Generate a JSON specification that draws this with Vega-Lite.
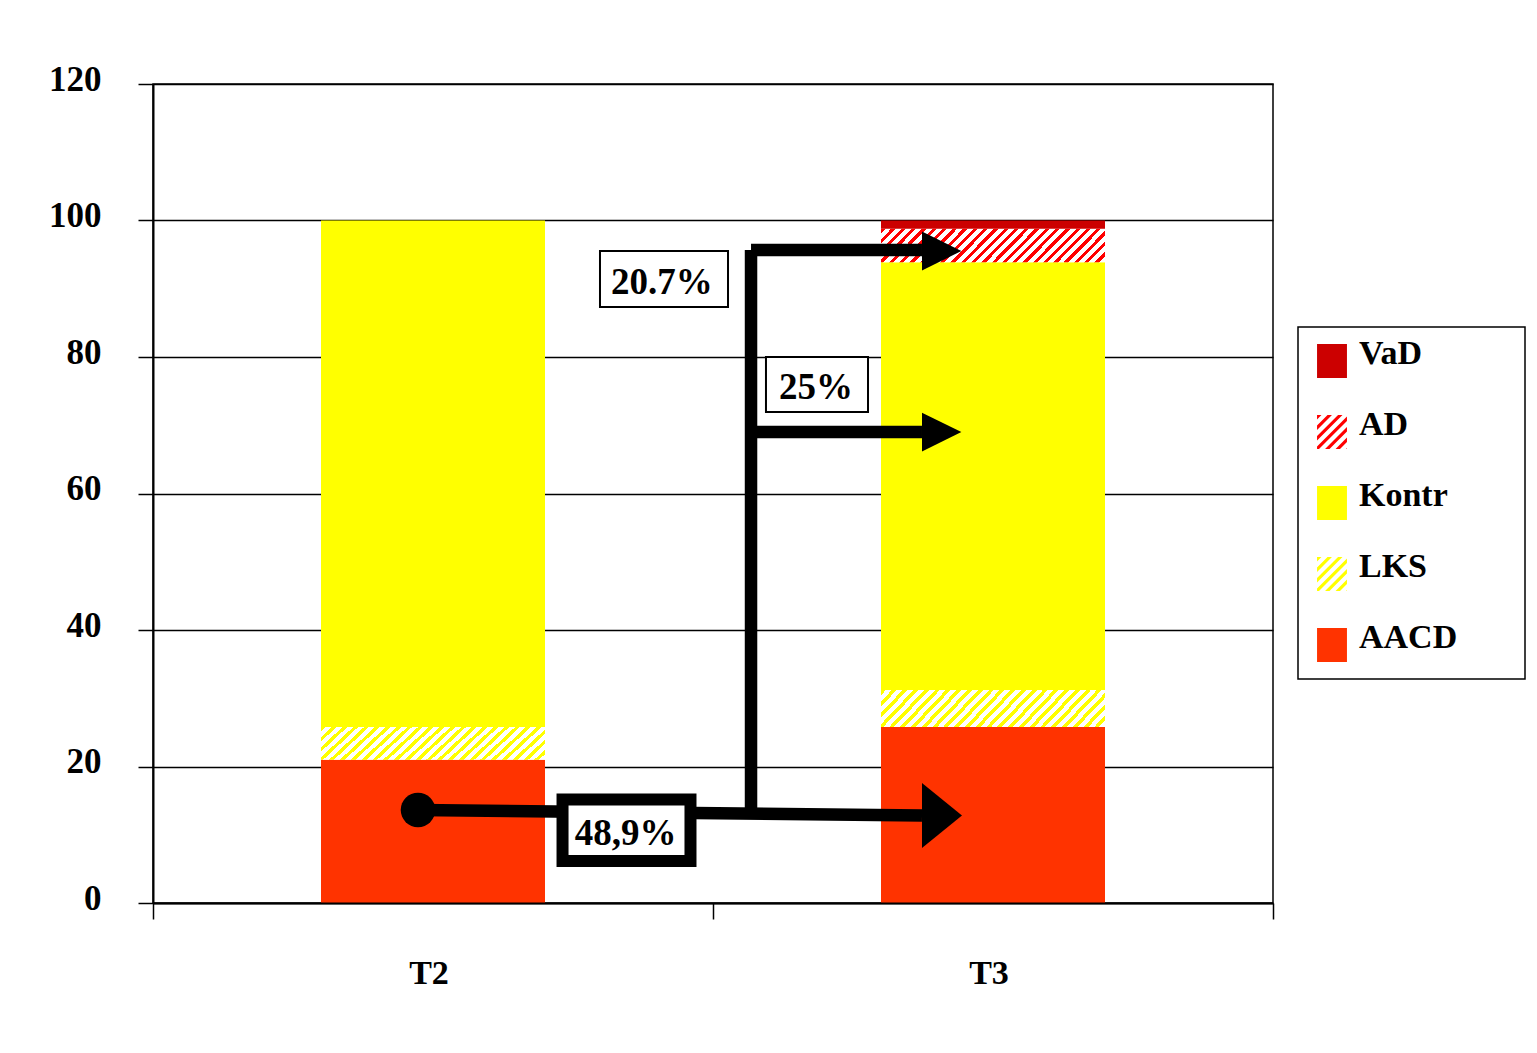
{
  "$schema": "https://vega.github.io/schema/vega-lite/v6.json",
  "width": 1120,
  "height": 819,
  "autosize": {"type": "none"},
  "padding": {"left": 153, "top": 84, "right": 264, "bottom": 150},
  "background": "white",
  "config": {
    "view": {"stroke": "black", "strokeWidth": 1.5},
    "font": "Liberation Serif",
    "axis": {
      "labelFont": "Liberation Serif",
      "labelFontWeight": "bold",
      "labelFontSize": 35,
      "labelColor": "black"
    }
  },
  "datasets": {
    "shares": [
      {"time": "T2", "series": "AACD", "share": 21.0},
      {"time": "T2", "series": "LKS", "share": 4.8},
      {"time": "T2", "series": "Kontr", "share": 74.2},
      {"time": "T3", "series": "AACD", "share": 25.8},
      {"time": "T3", "series": "LKS", "share": 5.4},
      {"time": "T3", "series": "Kontr", "share": 62.7},
      {"time": "T3", "series": "AD", "share": 4.9},
      {"time": "T3", "series": "VaD", "share": 1.2}
    ],
    "seriesOrder": [
      {"series": "AACD", "rank": 1},
      {"series": "LKS", "rank": 2},
      {"series": "Kontr", "rank": 3},
      {"series": "AD", "rank": 4},
      {"series": "VaD", "rank": 5}
    ],
    "paths": [
      {"flow": "48,9%", "x": 0.4732, "y": 13.63, "x2": 1.3732, "y2": 12.82},
      {"flow": "trunk", "x": 1.0679, "y": 13.2, "x2": 1.0679, "y2": 95.68},
      {"flow": "20.7%", "x": 1.0679, "y": 95.68, "x2": 1.3732, "y2": 95.68},
      {"flow": "25%", "x": 1.0679, "y": 69.0, "x2": 1.3732, "y2": 69.0}
    ],
    "heads": [
      {"flow": "48,9%", "x": 1.4089, "y": 12.82},
      {"flow": "20.7%", "x": 1.4089, "y": 95.53},
      {"flow": "25%", "x": 1.4089, "y": 69.0}
    ],
    "origin": [
      {"x": 0.4732, "y": 13.63}
    ],
    "boxes": [
      {"label": "20.7%", "x": 0.7982, "x2": 1.0268, "y": 95.53, "y2": 87.33, "tx": 0.9089, "ty": 89.23},
      {"label": "25%", "x": 1.0946, "x2": 1.2768, "y": 80.0, "y2": 71.94, "tx": 1.1839, "ty": 73.85},
      {"label": "48,9%", "x": 0.7313, "x2": 0.9598, "y": 15.16, "y2": 6.15, "tx": 0.8438, "ty": 8.5}
    ]
  },
  "resolve": {"scale": {"x": "independent"}, "axis": {"x": "independent"}},
  "layer": [
    {
      "data": {"name": "shares"},
      "transform": [
        {"lookup": "series", "from": {"data": {"name": "seriesOrder"}, "key": "series", "fields": ["rank"]}}
      ],
      "mark": {"type": "bar"},
      "encoding": {
        "x": {
          "field": "time",
          "type": "nominal",
          "scale": {"paddingInner": 0.6, "paddingOuter": 0.3},
          "axis": {
            "title": null,
            "orient": "bottom",
            "domain": false,
            "ticks": false,
            "grid": false,
            "labelAngle": 0,
            "labelFontSize": 34,
            "labelPadding": 80,
            "labelBaseline": "alphabetic",
            "labelOffset": -4
          }
        },
        "y": {
          "field": "share",
          "type": "quantitative",
          "stack": "zero",
          "scale": {"domain": [0, 120], "nice": false},
          "axis": {
            "title": null,
            "values": [0, 20, 40, 60, 80, 100, 120],
            "grid": true,
            "gridColor": "black",
            "gridWidth": 1.3,
            "domainColor": "black",
            "domainWidth": 2,
            "tickColor": "black",
            "tickWidth": 1.5,
            "tickSize": 15,
            "labelPadding": 37,
            "labelOffset": -5
          }
        },
        "order": {"field": "rank", "type": "quantitative", "sort": "ascending"},
        "color": {
          "condition": [
            {
              "test": "datum.series === 'AD'",
              "value": {
                "gradient": "linear", "x1": 0, "y1": 0, "x2": 1.1229, "y2": 0.1654,
                "stops": [
                  {"offset": 0, "color": "#FF0000"}, {"offset": 0.0168, "color": "#FF0000"}, {"offset": 0.0168, "color": "#FFFFFF"}, {"offset": 0.04, "color": "#FFFFFF"},
                  {"offset": 0.04, "color": "#FF0000"}, {"offset": 0.0568, "color": "#FF0000"}, {"offset": 0.0568, "color": "#FFFFFF"}, {"offset": 0.08, "color": "#FFFFFF"},
                  {"offset": 0.08, "color": "#FF0000"}, {"offset": 0.0968, "color": "#FF0000"}, {"offset": 0.0968, "color": "#FFFFFF"}, {"offset": 0.12, "color": "#FFFFFF"},
                  {"offset": 0.12, "color": "#FF0000"}, {"offset": 0.1368, "color": "#FF0000"}, {"offset": 0.1368, "color": "#FFFFFF"}, {"offset": 0.16, "color": "#FFFFFF"},
                  {"offset": 0.16, "color": "#FF0000"}, {"offset": 0.1768, "color": "#FF0000"}, {"offset": 0.1768, "color": "#FFFFFF"}, {"offset": 0.2, "color": "#FFFFFF"},
                  {"offset": 0.2, "color": "#FF0000"}, {"offset": 0.2168, "color": "#FF0000"}, {"offset": 0.2168, "color": "#FFFFFF"}, {"offset": 0.24, "color": "#FFFFFF"},
                  {"offset": 0.24, "color": "#FF0000"}, {"offset": 0.2568, "color": "#FF0000"}, {"offset": 0.2568, "color": "#FFFFFF"}, {"offset": 0.28, "color": "#FFFFFF"},
                  {"offset": 0.28, "color": "#FF0000"}, {"offset": 0.2968, "color": "#FF0000"}, {"offset": 0.2968, "color": "#FFFFFF"}, {"offset": 0.32, "color": "#FFFFFF"},
                  {"offset": 0.32, "color": "#FF0000"}, {"offset": 0.3368, "color": "#FF0000"}, {"offset": 0.3368, "color": "#FFFFFF"}, {"offset": 0.36, "color": "#FFFFFF"},
                  {"offset": 0.36, "color": "#FF0000"}, {"offset": 0.3768, "color": "#FF0000"}, {"offset": 0.3768, "color": "#FFFFFF"}, {"offset": 0.4, "color": "#FFFFFF"},
                  {"offset": 0.4, "color": "#FF0000"}, {"offset": 0.4168, "color": "#FF0000"}, {"offset": 0.4168, "color": "#FFFFFF"}, {"offset": 0.44, "color": "#FFFFFF"},
                  {"offset": 0.44, "color": "#FF0000"}, {"offset": 0.4568, "color": "#FF0000"}, {"offset": 0.4568, "color": "#FFFFFF"}, {"offset": 0.48, "color": "#FFFFFF"},
                  {"offset": 0.48, "color": "#FF0000"}, {"offset": 0.4968, "color": "#FF0000"}, {"offset": 0.4968, "color": "#FFFFFF"}, {"offset": 0.52, "color": "#FFFFFF"},
                  {"offset": 0.52, "color": "#FF0000"}, {"offset": 0.5368, "color": "#FF0000"}, {"offset": 0.5368, "color": "#FFFFFF"}, {"offset": 0.56, "color": "#FFFFFF"},
                  {"offset": 0.56, "color": "#FF0000"}, {"offset": 0.5768, "color": "#FF0000"}, {"offset": 0.5768, "color": "#FFFFFF"}, {"offset": 0.6, "color": "#FFFFFF"},
                  {"offset": 0.6, "color": "#FF0000"}, {"offset": 0.6168, "color": "#FF0000"}, {"offset": 0.6168, "color": "#FFFFFF"}, {"offset": 0.64, "color": "#FFFFFF"},
                  {"offset": 0.64, "color": "#FF0000"}, {"offset": 0.6568, "color": "#FF0000"}, {"offset": 0.6568, "color": "#FFFFFF"}, {"offset": 0.68, "color": "#FFFFFF"},
                  {"offset": 0.68, "color": "#FF0000"}, {"offset": 0.6968, "color": "#FF0000"}, {"offset": 0.6968, "color": "#FFFFFF"}, {"offset": 0.72, "color": "#FFFFFF"},
                  {"offset": 0.72, "color": "#FF0000"}, {"offset": 0.7368, "color": "#FF0000"}, {"offset": 0.7368, "color": "#FFFFFF"}, {"offset": 0.76, "color": "#FFFFFF"},
                  {"offset": 0.76, "color": "#FF0000"}, {"offset": 0.7768, "color": "#FF0000"}, {"offset": 0.7768, "color": "#FFFFFF"}, {"offset": 0.8, "color": "#FFFFFF"},
                  {"offset": 0.8, "color": "#FF0000"}, {"offset": 0.8168, "color": "#FF0000"}, {"offset": 0.8168, "color": "#FFFFFF"}, {"offset": 0.84, "color": "#FFFFFF"},
                  {"offset": 0.84, "color": "#FF0000"}, {"offset": 0.8568, "color": "#FF0000"}, {"offset": 0.8568, "color": "#FFFFFF"}, {"offset": 0.88, "color": "#FFFFFF"},
                  {"offset": 0.88, "color": "#FF0000"}, {"offset": 0.8968, "color": "#FF0000"}, {"offset": 0.8968, "color": "#FFFFFF"}, {"offset": 0.92, "color": "#FFFFFF"},
                  {"offset": 0.92, "color": "#FF0000"}, {"offset": 0.9368, "color": "#FF0000"}, {"offset": 0.9368, "color": "#FFFFFF"}, {"offset": 0.96, "color": "#FFFFFF"},
                  {"offset": 0.96, "color": "#FF0000"}, {"offset": 0.9768, "color": "#FF0000"}, {"offset": 0.9768, "color": "#FFFFFF"}, {"offset": 1, "color": "#FFFFFF"}
                ]
              }
            },
            {
              "test": "datum.series === 'LKS'",
              "value": {
                "gradient": "linear", "x1": 0, "y1": 0, "x2": 1.1287, "y2": 0.1764,
                "stops": [
                  {"offset": 0, "color": "#FFFF00"}, {"offset": 0.01875, "color": "#FFFF00"}, {"offset": 0.01875, "color": "#FFFFFF"}, {"offset": 0.041667, "color": "#FFFFFF"},
                  {"offset": 0.041667, "color": "#FFFF00"}, {"offset": 0.060417, "color": "#FFFF00"}, {"offset": 0.060417, "color": "#FFFFFF"}, {"offset": 0.083333, "color": "#FFFFFF"},
                  {"offset": 0.083333, "color": "#FFFF00"}, {"offset": 0.102083, "color": "#FFFF00"}, {"offset": 0.102083, "color": "#FFFFFF"}, {"offset": 0.125, "color": "#FFFFFF"},
                  {"offset": 0.125, "color": "#FFFF00"}, {"offset": 0.14375, "color": "#FFFF00"}, {"offset": 0.14375, "color": "#FFFFFF"}, {"offset": 0.166667, "color": "#FFFFFF"},
                  {"offset": 0.166667, "color": "#FFFF00"}, {"offset": 0.185417, "color": "#FFFF00"}, {"offset": 0.185417, "color": "#FFFFFF"}, {"offset": 0.208333, "color": "#FFFFFF"},
                  {"offset": 0.208333, "color": "#FFFF00"}, {"offset": 0.227083, "color": "#FFFF00"}, {"offset": 0.227083, "color": "#FFFFFF"}, {"offset": 0.25, "color": "#FFFFFF"},
                  {"offset": 0.25, "color": "#FFFF00"}, {"offset": 0.26875, "color": "#FFFF00"}, {"offset": 0.26875, "color": "#FFFFFF"}, {"offset": 0.291667, "color": "#FFFFFF"},
                  {"offset": 0.291667, "color": "#FFFF00"}, {"offset": 0.310417, "color": "#FFFF00"}, {"offset": 0.310417, "color": "#FFFFFF"}, {"offset": 0.333333, "color": "#FFFFFF"},
                  {"offset": 0.333333, "color": "#FFFF00"}, {"offset": 0.352083, "color": "#FFFF00"}, {"offset": 0.352083, "color": "#FFFFFF"}, {"offset": 0.375, "color": "#FFFFFF"},
                  {"offset": 0.375, "color": "#FFFF00"}, {"offset": 0.39375, "color": "#FFFF00"}, {"offset": 0.39375, "color": "#FFFFFF"}, {"offset": 0.416667, "color": "#FFFFFF"},
                  {"offset": 0.416667, "color": "#FFFF00"}, {"offset": 0.435417, "color": "#FFFF00"}, {"offset": 0.435417, "color": "#FFFFFF"}, {"offset": 0.458333, "color": "#FFFFFF"},
                  {"offset": 0.458333, "color": "#FFFF00"}, {"offset": 0.477083, "color": "#FFFF00"}, {"offset": 0.477083, "color": "#FFFFFF"}, {"offset": 0.5, "color": "#FFFFFF"},
                  {"offset": 0.5, "color": "#FFFF00"}, {"offset": 0.51875, "color": "#FFFF00"}, {"offset": 0.51875, "color": "#FFFFFF"}, {"offset": 0.541667, "color": "#FFFFFF"},
                  {"offset": 0.541667, "color": "#FFFF00"}, {"offset": 0.560417, "color": "#FFFF00"}, {"offset": 0.560417, "color": "#FFFFFF"}, {"offset": 0.583333, "color": "#FFFFFF"},
                  {"offset": 0.583333, "color": "#FFFF00"}, {"offset": 0.602083, "color": "#FFFF00"}, {"offset": 0.602083, "color": "#FFFFFF"}, {"offset": 0.625, "color": "#FFFFFF"},
                  {"offset": 0.625, "color": "#FFFF00"}, {"offset": 0.64375, "color": "#FFFF00"}, {"offset": 0.64375, "color": "#FFFFFF"}, {"offset": 0.666667, "color": "#FFFFFF"},
                  {"offset": 0.666667, "color": "#FFFF00"}, {"offset": 0.685417, "color": "#FFFF00"}, {"offset": 0.685417, "color": "#FFFFFF"}, {"offset": 0.708333, "color": "#FFFFFF"},
                  {"offset": 0.708333, "color": "#FFFF00"}, {"offset": 0.727083, "color": "#FFFF00"}, {"offset": 0.727083, "color": "#FFFFFF"}, {"offset": 0.75, "color": "#FFFFFF"},
                  {"offset": 0.75, "color": "#FFFF00"}, {"offset": 0.76875, "color": "#FFFF00"}, {"offset": 0.76875, "color": "#FFFFFF"}, {"offset": 0.791667, "color": "#FFFFFF"},
                  {"offset": 0.791667, "color": "#FFFF00"}, {"offset": 0.810417, "color": "#FFFF00"}, {"offset": 0.810417, "color": "#FFFFFF"}, {"offset": 0.833333, "color": "#FFFFFF"},
                  {"offset": 0.833333, "color": "#FFFF00"}, {"offset": 0.852083, "color": "#FFFF00"}, {"offset": 0.852083, "color": "#FFFFFF"}, {"offset": 0.875, "color": "#FFFFFF"},
                  {"offset": 0.875, "color": "#FFFF00"}, {"offset": 0.89375, "color": "#FFFF00"}, {"offset": 0.89375, "color": "#FFFFFF"}, {"offset": 0.916667, "color": "#FFFFFF"},
                  {"offset": 0.916667, "color": "#FFFF00"}, {"offset": 0.935417, "color": "#FFFF00"}, {"offset": 0.935417, "color": "#FFFFFF"}, {"offset": 0.958333, "color": "#FFFFFF"},
                  {"offset": 0.958333, "color": "#FFFF00"}, {"offset": 0.977083, "color": "#FFFF00"}, {"offset": 0.977083, "color": "#FFFFFF"}, {"offset": 1, "color": "#FFFFFF"}
                ]
              }
            }
          ],
          "field": "series",
          "type": "nominal",
          "scale": {
            "domain": ["VaD", "AD", "Kontr", "LKS", "AACD"],
            "range": ["#CC0000", "#FF0000", "#FFFF00", "#FFFF00", "#FF3300"]
          },
          "legend": {
            "title": null,
            "orient": "none",
            "legendX": 1145,
            "legendY": 243,
            "values": ["VaD", "AD", "Kontr", "LKS", "AACD"],
            "symbolType": "M-0.88,-1L0.88,-1L0.88,1L-0.88,1Z",
            "symbolSize": 1156,
            "symbolStrokeWidth": 0,
            "labelFont": "Liberation Serif",
            "labelFontWeight": "bold",
            "labelFontSize": 34,
            "labelColor": "black",
            "labelOffset": 10,
            "labelLimit": 400,
            "labelExpr": "datum.label + '\u2800\u2800'",
            "rowPadding": 30,
            "padding": 17,
            "strokeColor": "black",
            "fillColor": "white",
            "encode": {
              "legend": {"update": {"strokeWidth": {"value": 1.5}}},
              "labels": {"update": {"dy": {"value": -7}}},
              "symbols": {
                "update": {
                  "shape": [
                    {
                      "test": "datum.value === 'AD' || datum.value === 'LKS'",
                      "value": "M-0.88,-1L-0.62,-1L-0.88,-0.74Z M-0.262,-1L-0.002,-1L-0.88,-0.122L-0.88,-0.382Z M0.356,-1L0.616,-1L-0.88,0.496L-0.88,0.236Z M0.88,-0.906L-0.88,0.854L-0.88,1L-0.766,1L0.88,-0.646Z M0.88,-0.288L-0.408,1L-0.148,1L0.88,-0.028Z M0.88,0.33L0.21,1L0.47,1L0.88,0.59Z M0.88,0.948L0.828,1L0.88,1Z"
                    },
                    {"value": "M-0.88,-1L0.88,-1L0.88,1L-0.88,1Z"}
                  ]
                }
              }
            }
          }
        }
      }
    },
    {
      "layer": [
        {
          "data": {"name": "paths"},
          "mark": {"type": "rule", "color": "black", "strokeWidth": 12.5, "strokeCap": "butt"},
          "encoding": {
            "x": {
              "field": "x",
              "type": "quantitative",
              "scale": {"domain": [0, 2], "nice": false, "zero": false},
              "axis": {
                "title": null,
                "orient": "bottom",
                "values": [0, 1, 2],
                "labels": false,
                "grid": false,
                "ticks": true,
                "tickSize": 16,
                "tickColor": "black",
                "tickWidth": 1.5,
                "domain": true,
                "domainColor": "black",
                "domainWidth": 2,
                "zindex": 1
              }
            },
            "x2": {"field": "x2"},
            "y": {"field": "y", "type": "quantitative"},
            "y2": {"field": "y2"}
          }
        },
        {
          "data": {"name": "origin"},
          "mark": {"type": "point", "filled": true, "color": "black", "opacity": 1, "shape": "circle", "size": 1194},
          "encoding": {
            "x": {"field": "x", "type": "quantitative"},
            "y": {"field": "y", "type": "quantitative"}
          }
        },
        {
          "data": {"name": "heads"},
          "mark": {"type": "point", "filled": true, "color": "black", "opacity": 1, "size": 1600},
          "encoding": {
            "x": {"field": "x", "type": "quantitative"},
            "y": {"field": "y", "type": "quantitative"},
            "shape": {
              "condition": {"test": "datum.flow === '48,9%'", "value": "M-1,-1.625L1,0L-1,1.625Z"},
              "value": "M-1,-0.97L0.97,0L-1,0.97Z"
            }
          }
        },
        {
          "data": {"name": "boxes"},
          "mark": {"type": "rect", "fill": "white", "stroke": "black"},
          "encoding": {
            "x": {"field": "x", "type": "quantitative"},
            "x2": {"field": "x2"},
            "y": {"field": "y", "type": "quantitative"},
            "y2": {"field": "y2"},
            "strokeWidth": {
              "condition": {"test": "datum.label === '48,9%'", "value": 12},
              "value": 2
            }
          }
        },
        {
          "data": {"name": "boxes"},
          "mark": {
            "type": "text",
            "font": "Liberation Serif",
            "fontWeight": "bold",
            "fontSize": 37,
            "align": "center",
            "baseline": "alphabetic",
            "color": "black"
          },
          "encoding": {
            "x": {"field": "tx", "type": "quantitative"},
            "y": {"field": "ty", "type": "quantitative"},
            "text": {"field": "label"}
          }
        }
      ]
    }
  ]
}
